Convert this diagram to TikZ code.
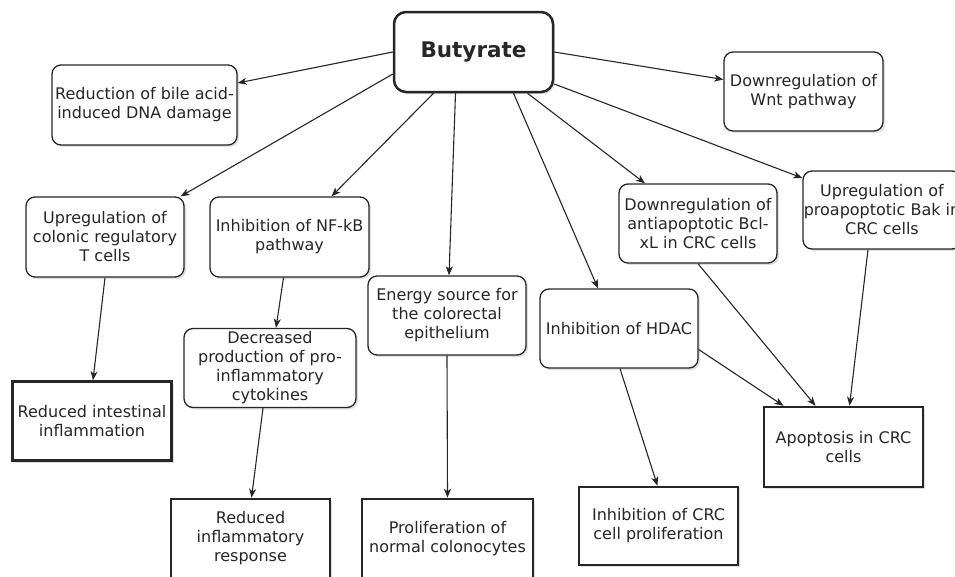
\documentclass[tikz,border=0pt]{standalone}
\usepackage{fontspec}
\setmainfont{DejaVu Sans}
\usetikzlibrary{arrows.meta,shadows,calc}
\begin{document}
\begin{tikzpicture}[x=1pt,y=-1pt,
 font=\fontsize{16}{19}\selectfont,
 base/.style={draw=black!85, fill=white, text=black!85, align=center, inner sep=0pt,
   drop shadow={shadow xshift=2pt,shadow yshift=-2pt,opacity=0.25}},
 rbox/.style={base, rounded corners=9pt, line width=1.3pt},
 sbox/.style={base, line width=2.5pt},
 arr/.style={-{Stealth[length=9pt,width=7pt,inset=2.5pt]}, line width=1.1pt, black!85}]
\useasboundingbox (0,0) rectangle (955,576);

\node[base, rounded corners=12pt, line width=2.5pt, minimum width=159pt, minimum height=80pt,
  font=\fontsize{21.5}{24}\selectfont\bfseries] (but) at (473.5,52) {Butyrate};
\node[rbox, minimum width=185pt, minimum height=80pt] (red) at (144.5,105) {Reduction of bile acid-\\induced DNA damage};
\node[rbox, minimum width=159pt, minimum height=79pt] (wnt) at (803.5,91.5) {Downregulation of\\Wnt pathway};
\node[rbox, minimum width=158pt, minimum height=80pt] (tc) at (105,237) {Upregulation of\\colonic regulatory\\T cells};
\node[rbox, minimum width=159pt, minimum height=80pt] (nf) at (289.5,237) {Inhibition of NF-kB\\pathway};
\node[rbox, minimum width=158pt, minimum height=79pt] (en) at (447,315.5) {Energy source for\\the colorectal\\epithelium};
\node[rbox, minimum width=158pt, minimum height=79pt] (hd) at (619,328.5) {Inhibition of HDAC};
\node[rbox, minimum width=158pt, minimum height=79pt] (bcl) at (698,223.5) {Downregulation of\\antiapoptotic Bcl-\\xL in CRC cells};
\node[rbox, minimum width=158pt, minimum height=78pt] (bak) at (882,210) {Upregulation of\\proapoptotic Bak in\\CRC cells};
\node[rbox, minimum width=172pt, minimum height=79pt] (dec) at (270,368) {Decreased\\production of pro-\\inflammatory\\cytokines};
\node[sbox, minimum width=159pt, minimum height=79pt] (rii) at (92,421) {Reduced intestinal\\inflammation};
\node[sbox, minimum width=159pt, minimum height=79pt] (rir) at (250.5,538.5) {Reduced\\inflammatory\\response};
\node[sbox, minimum width=171pt, minimum height=79pt] (prol) at (447.5,538.5) {Proliferation of\\normal colonocytes};
\node[sbox, minimum width=159pt, minimum height=78pt] (icrc) at (658.5,526) {Inhibition of CRC\\cell proliferation};
\node[sbox, minimum width=159pt, minimum height=80pt] (apop) at (843.5,447) {Apoptosis in CRC\\cells};

\draw[arr] (but.west) -- ($(red.east)+(0,-22)$);
\draw[arr] (but.east) -- ($(wnt.west)+(0,-12)$);
\draw[arr] ($(but.west)+(0,22)$) -- ($(tc.north east)+(-4,0)$);
\draw[arr] ($(but.south)+(-40,0)$) -- ($(nf.north)+(42,0)$);
\draw[arr] ($(but.south)+(-18,0)$) -- ($(en.north)+(2,0)$);
\draw[arr] ($(but.south)+(40,0)$) -- ($(hd.north)+(-21,0)$);
\draw[arr] ($(but.south)+(54,0)$) -- ($(bcl.north)+(-53,0)$);
\draw[arr] ($(but.east)+(0,32)$) -- ($(bak.west)+(0,-32)$);
\draw[arr] (tc.south) -- ($(rii.north)+(1,0)$);
\draw[arr] ($(nf.south)+(-6,0)$) -- ($(dec.north)+(6,0)$);
\draw[arr] ($(dec.south)+(-7,0)$) -- ($(rir.north)+(1,0)$);
\draw[arr] (en.south) -- (prol.north);
\draw[arr] ($(hd.south)+(1,0)$) -- ($(icrc.north)+(-1,0)$);
\draw[arr] ($(hd.east)+(0,21)$) -- ($(apop.north)+(-60,0)$);
\draw[arr] (bcl.south) -- ($(apop.north)+(-28,0)$);
\draw[arr] ($(bak.south)+(-14,0)$) -- ($(apop.north)+(6,0)$);
\end{tikzpicture}
\end{document}
